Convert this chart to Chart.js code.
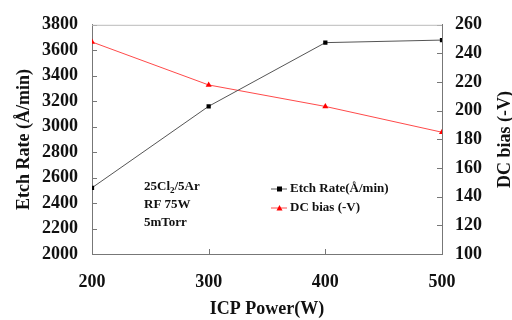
<!DOCTYPE html>
<html>
<head>
<meta charset="utf-8">
<script src="https://cdn.jsdelivr.net/npm/chart.js@4"></script>
<style>
    html, body { margin: 0; padding: 0; background: #fff; }
    #wrap { width: 512px; height: 320px; }
</style>
</head>
<body>
<div id="wrap"><canvas id="etch-chart"></canvas></div>
<script>
// ICP power (W) on the x axis
var icpPower = [200, 300, 400, 500]
// etch rate in A/min, left axis
var etchRate = [2520, 3160, 3660, 3680]
// DC bias in -V, right axis
var dcBias = [248, 218, 203, 185]

var etchTicks = [2000, 3800, 200]
var biasTicks = [100, 260, 20]
var powerTicks = [200, 500, 100]

var conditions = ["25Cl", "RF 75W", "5mTorr"]

var serif = "'Liberation Serif', 'DejaVu Serif', serif"

function toPoints(xs, ys) {
    return xs.map((x, i) => ({ x: x, y: ys[i] }))
}

// inward tick marks, top frame line, right title, note text and legend
var decorations = {
    id: 'decorations',
    afterDraw(chart) {
        let ctx = chart.ctx
        let area = chart.chartArea
        let sx = chart.scales.x, sy = chart.scales.y, sy1 = chart.scales.y1

        ctx.save()
        ctx.strokeStyle = '#777'
        ctx.lineWidth = 1
        ctx.beginPath()
        sy.ticks.forEach((t) => {
            let p = Math.round(sy.getPixelForValue(t.value)) + 0.5
            ctx.moveTo(area.left, p); ctx.lineTo(area.left + 5, p)
        })
        sy1.ticks.forEach((t) => {
            let p = Math.round(sy1.getPixelForValue(t.value)) + 0.5
            ctx.moveTo(area.right, p); ctx.lineTo(area.right - 5, p)
        })
        sx.ticks.forEach((t) => {
            let p = Math.round(sx.getPixelForValue(t.value)) + 0.5
            ctx.moveTo(p, area.bottom); ctx.lineTo(p, area.bottom - 5)
        })
        ctx.stroke()

        ctx.strokeStyle = '#bbb'
        ctx.beginPath()
        ctx.moveTo(area.left, area.top + 0.5); ctx.lineTo(area.right, area.top + 0.5)
        ctx.stroke()

        // right axis title reads bottom to top
        ctx.fillStyle = '#111'
        ctx.font = 'bold 18px ' + serif
        ctx.textAlign = 'center'
        ctx.textBaseline = 'middle'
        ctx.translate(505, (area.top + area.bottom) / 2)
        ctx.rotate(-Math.PI / 2)
        ctx.fillText('DC bias (-V)', 0, 0)
        ctx.restore()

        // process conditions
        ctx.save()
        ctx.fillStyle = '#111'
        ctx.font = 'bold 13px ' + serif
        ctx.textBaseline = 'middle'
        ctx.textAlign = 'left'
        let nx = 144, ny = 187
        ctx.fillText(conditions[0], nx, ny)
        let w = ctx.measureText(conditions[0]).width
        ctx.font = 'bold 9px ' + serif
        ctx.fillText('2', nx + w, ny + 4)
        let w2 = ctx.measureText('2').width
        ctx.font = 'bold 13px ' + serif
        ctx.fillText('/5Ar', nx + w + w2, ny)
        ctx.fillText(conditions[1], nx, ny + 18)
        ctx.fillText(conditions[2], nx, ny + 36)

        // legend
        chart.data.datasets.forEach((ds, i) => {
            let ly = 189 + i * 19
            ctx.strokeStyle = ds.borderColor
            ctx.lineWidth = 1
            ctx.beginPath()
            ctx.moveTo(271, ly); ctx.lineTo(287, ly)
            ctx.stroke()
            ctx.fillStyle = ds.pointBackgroundColor
            if (ds.pointStyle == 'rect') {
                ctx.fillRect(277, ly - 2.5, 5, 5)
            } else {
                ctx.beginPath()
                ctx.moveTo(279.5, ly - 3); ctx.lineTo(282.5, ly + 2.5); ctx.lineTo(276.5, ly + 2.5)
                ctx.closePath(); ctx.fill()
            }
            ctx.fillStyle = '#111'
            ctx.fillText(ds.label, 290, ly)
        })
        ctx.restore()
    }
}

var plainTick = (v) => String(v)

new Chart(document.getElementById('etch-chart').getContext('2d'), {
    type: 'line',
    data: {
        datasets: [{
            label: 'Etch Rate(Å/min)',
            data: toPoints(icpPower, etchRate),
            yAxisID: 'y',
            borderColor: '#555',
            borderWidth: 1,
            pointStyle: 'rect',
            pointRadius: 3,
            pointBackgroundColor: '#000',
            pointBorderColor: '#000',
            pointBorderWidth: 0
        }, {
            label: 'DC bias (-V)',
            data: toPoints(icpPower, dcBias),
            yAxisID: 'y1',
            borderColor: '#ff4a4a',
            borderWidth: 1,
            pointStyle: 'triangle',
            pointRadius: 3.5,
            pointBackgroundColor: '#ff0000',
            pointBorderColor: '#ff0000',
            pointBorderWidth: 0
        }]
    },
    options: {
        responsive: true,
        maintainAspectRatio: false,
        animation: false,
        layout: { padding: { top: 19, left: 0, right: 0, bottom: 0 } },
        plugins: { legend: { display: false }, tooltip: { enabled: false } },
        scales: {
            x: {
                type: 'linear',
                min: powerTicks[0], max: powerTicks[1],
                afterFit: (scale) => { scale.height = 66 },
                ticks: { stepSize: powerTicks[2], callback: plainTick, color: '#111', padding: 18, font: { family: serif, size: 18, weight: 'bold' } },
                grid: { drawOnChartArea: false, drawTicks: false },
                border: { display: true, color: '#777' },
                title: { display: true, text: 'ICP Power(W)', color: '#111', padding: { top: 15, bottom: 0 }, font: { family: serif, size: 18, weight: 'bold' } }
            },
            y: {
                position: 'left',
                min: etchTicks[0], max: etchTicks[1],
                afterFit: (scale) => { scale.width = 92 },
                ticks: { stepSize: etchTicks[2], callback: plainTick, color: '#111', padding: 14, font: { family: serif, size: 18, weight: 'bold' } },
                grid: { drawOnChartArea: false, drawTicks: false },
                border: { display: true, color: '#777' },
                title: { display: true, text: 'Etch Rate (Å/min)', color: '#111', padding: { top: 14, bottom: 0 }, font: { family: serif, size: 18, weight: 'bold' } }
            },
            y1: {
                position: 'right',
                min: biasTicks[0], max: biasTicks[1],
                afterFit: (scale) => { scale.width = 70 },
                ticks: { stepSize: biasTicks[2], callback: plainTick, color: '#111', padding: 13, font: { family: serif, size: 18, weight: 'bold' } },
                grid: { drawOnChartArea: false, drawTicks: false },
                border: { display: true, color: '#777' }
            }
        }
    },
    plugins: [decorations]
})
</script>
</body>
</html>
